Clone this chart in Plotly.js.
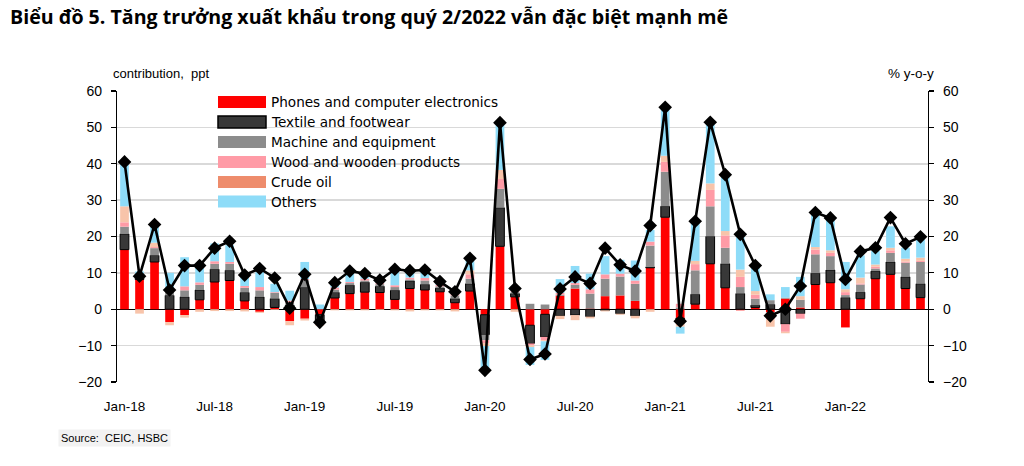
<!DOCTYPE html>
<html>
<head>
<meta charset="utf-8">
<script src="https://cdn.plot.ly/plotly-3.0.1.min.js"></script>
<style>html,body{margin:0;padding:0;background:#fff;}#chart{width:1024px;height:466px;}</style>
</head>
<body>
<div id="chart"></div>
<script>
const months = ["Jan-18","Feb-18","Mar-18","Apr-18","May-18","Jun-18","Jul-18","Aug-18","Sep-18","Oct-18","Nov-18","Dec-18",
"Jan-19","Feb-19","Mar-19","Apr-19","May-19","Jun-19","Jul-19","Aug-19","Sep-19","Oct-19","Nov-19","Dec-19",
"Jan-20","Feb-20","Mar-20","Apr-20","May-20","Jun-20","Jul-20","Aug-20","Sep-20","Oct-20","Nov-20","Dec-20",
"Jan-21","Feb-21","Mar-21","Apr-21","May-21","Jun-21","Jul-21","Aug-21","Sep-21","Oct-21","Nov-21","Dec-21",
"Jan-22","Feb-22","Mar-22","Apr-22","May-22","Jun-22"];
const tickLabels = ["Jan-18","Jul-18","Jan-19","Jul-19","Jan-20","Jul-20","Jan-21","Jul-21","Jan-22"];

const phones = [16.4,8.2,13.0,-3.5,-1.6,2.6,7.5,7.9,2.3,-0.7,0.5,-3.3,
 -2.6,-1.5,3.1,4.3,4.7,4.6,2.7,5.7,5.3,4.8,1.8,5.0,
 -1.5,17.3,3.4,-4.4,-1.4,3.7,5.7,0.2,3.6,3.8,2.3,11.4,
 25.3,-2.5,1.4,12.5,5.9,-0.3,0.5,-0.8,2.9,0.5,6.8,7.3,
 -5.0,2.9,8.4,9.6,5.7,3.2];
const textile = [4.3,0.3,1.8,3.8,3.4,2.7,3.5,2.8,2.3,3.4,2.4,1.1,
 6.0,-2.0,1.5,2.3,2.7,1.7,2.5,2.1,1.5,1.0,1.1,2.0,
 -5.5,10.6,0.9,-5.0,-6.2,-1.8,-1.6,-2.0,-0.3,-1.2,-1.8,0.2,
 3.0,-0.3,2.7,7.5,6.6,4.3,0.6,1.3,-4.1,-1.2,3.1,3.5,
 3.2,1.8,2.1,3.4,3.2,3.8];
const machine = [2.0,0.2,2.0,1.1,1.8,1.4,1.5,1.8,1.3,1.8,1.6,0.7,
 2.0,-0.5,0.8,0.6,0.5,0.6,0.9,0.4,1.1,0.5,0.9,1.4,
 -1.5,5.2,0.5,1.5,1.3,0.3,1.0,4.1,4.8,5.2,4.7,5.9,
 9.5,0.5,6.6,8.3,4.4,1.8,1.8,1.2,0.3,2.1,5.2,3.8,
 0.7,2.1,0.7,2.5,3.9,6.0];
const wood = [1.2,0.2,0.3,0.3,1.1,0.7,0.7,0.5,0.5,0.9,0.2,0.6,
 0.3,-0.3,0.6,0.3,0.5,0.3,0.5,0.5,0.7,0.4,0.4,1.2,
 -0.8,2.7,0.3,-0.5,-0.9,0.5,0.5,1.2,1.2,0.8,0.9,1.1,
 2.7,1.0,1.7,4.5,3.4,2.8,1.1,-2.0,-2.1,-1.4,1.3,0.9,
 0.8,0.3,0.5,0.7,0.3,0.3];
const crude = [4.4,-1.2,1.2,-0.9,-0.7,-0.7,-0.5,-0.5,-0.6,-0.3,-0.2,-1.1,
 -0.5,-0.2,-0.3,-0.3,-0.3,-0.2,-0.3,-0.6,-0.3,-0.3,-0.6,1.1,
 -0.8,2.5,-0.7,-0.5,-0.3,-0.9,-1.4,-0.5,-0.3,-0.3,-0.7,-0.7,
 1.7,-2.0,0.9,1.8,1.2,2.0,1.0,-2.0,-0.4,1.0,0.7,0.7,
 0.8,1.6,0.6,0.7,0.8,0.9];
const others = [12.1,1.5,4.5,4.8,8.0,5.0,4.9,4.6,2.5,4.1,2.3,2.7,
 4.7,1.3,1.6,3.6,1.7,1.0,4.7,2.5,2.5,1.2,1.2,3.3,
 -6.7,13.0,1.3,-4.9,-5.1,3.8,4.7,4.3,5.0,3.8,5.5,3.2,
 13.2,-1.9,10.5,16.7,15.7,8.9,6.6,1.6,2.9,5.3,9.4,8.9,
 7.5,6.1,3.7,5.9,3.0,5.4];
const total = [40.5,9.1,23.3,5.3,12.0,12.0,16.8,18.7,9.4,11.2,8.6,0.3,
 9.6,-3.6,7.3,10.5,9.8,8.0,11.0,10.6,10.8,7.6,4.8,14.0,
 -16.8,51.3,5.7,-13.8,-12.3,5.6,8.9,7.1,16.8,12.2,10.5,23.0,
 55.5,-3.3,24.2,51.4,37.0,20.6,12.0,-1.8,0.0,6.4,26.6,25.1,
 8.2,15.9,16.9,25.2,18.0,19.9];

const seriesNames = ["Phones and computer electronics","Textile and footwear","Machine and equipment","Wood and wooden products","Crude oil","Others"];
const barColors = ["#FF0000","#383838","#8C8C8C","#FF9BA6","#F8C4AA","#8EDCF8"];
const legendColors = ["#FF0000","#383838","#8C8C8C","#FF9BA6","#EE8C6C","#8EDCF8"];
const seriesData = [phones,textile,machine,wood,crude,others];

const traces = seriesData.map((d,k)=>({
  type:'bar', x:months, y:d, name:seriesNames[k], showlegend:false,
  marker:{color:barColors[k], line:{color:k===1?'#000000':'rgba(0,0,0,0)', width:k===1?1:0}},
  hoverinfo:'skip'
}));
traces.push({
  type:'scatter', mode:'lines+markers', x:months, y:total, yaxis:'y2', showlegend:false,
  line:{color:'#000000', width:2.6},
  marker:{symbol:'diamond', size:10.5, color:'#000000'}
});

// plot area in pixels
const L=117, R=928, T=91, B=382;
const px = v => (v-L)/(R-L);
const py = v => (B-v)/(B-T);

const shapes = [];
const annotations = [];
const rowsY = [102,122,142,162,182,201.5];
seriesNames.forEach((n,k)=>{
  shapes.push({type:'rect', xref:'paper', yref:'paper', x0:px(218), x1:px(266), y0:py(rowsY[k]+6), y1:py(rowsY[k]-6),
    fillcolor:legendColors[k], line:{color:k===1?'#000':'rgba(0,0,0,0)', width:k===1?1.5:0}});
  annotations.push({xref:'paper', yref:'paper', x:px(269), y:py(rowsY[k]), xanchor:'left', yanchor:'middle',
    text:n, showarrow:false, font:{family:'DejaVu Sans', size:13.6, color:'#000'}});
});

annotations.push({xref:'paper', yref:'paper', x:px(111), y:py(73), xanchor:'left', yanchor:'middle', showarrow:false,
  text:'contribution,  ppt', font:{family:'Liberation Sans', size:13, color:'#000'}});
annotations.push({xref:'paper', yref:'paper', x:px(936), y:py(73), xanchor:'right', yanchor:'middle', showarrow:false,
  text:'% y-o-y', font:{family:'Liberation Sans', size:13.5, color:'#000'}});
annotations.push({xref:'paper', yref:'paper', x:px(58), y:py(438), xanchor:'left', yanchor:'middle', showarrow:false,
  text:'Source:  CEIC, HSBC', bgcolor:'#F2F2F2', borderpad:2, font:{family:'Liberation Sans', size:11, color:'#000'}});

const layout = {
  width:1024, height:466,
  margin:{l:L, r:1024-R, t:T, b:466-B, pad:0},
  paper_bgcolor:'#ffffff', plot_bgcolor:'#ffffff',
  barmode:'relative', bargap:0.42,
  title:{text:'<b>Biểu đồ 5. Tăng trưởng xuất khẩu trong quý 2/2022 vẫn đặc biệt mạnh mẽ</b>', x:10/1024, xanchor:'left', y:1-17.5/466, yanchor:'middle',
    font:{family:'Open Sans', size:19.6, color:'#000'}},
  xaxis:{type:'category', range:[-0.5,53.5], tickmode:'array', tickvals:tickLabels, ticktext:tickLabels,
    showgrid:false, showline:false, ticks:'', ticklabelstandoff:14,
    tickfont:{family:'Liberation Sans', size:13.5, color:'#000'}},
  yaxis:{range:[-20,60], tickvals:[-20,-10,0,10,20,30,40,50,60], showgrid:true, gridcolor:'#D9D9D9', gridwidth:1.5,
    zeroline:true, zerolinecolor:'#000', zerolinewidth:1.2,
    showline:true, linecolor:'#000', linewidth:1.2, ticks:'outside', ticklen:5, tickcolor:'#000', tickwidth:1.2,
    tickfont:{family:'Liberation Sans', size:14, color:'#000'}, ticklabelstandoff:6},
  yaxis2:{range:[-20,60], overlaying:'y', side:'right', tickvals:[-20,-10,0,10,20,30,40,50,60], showgrid:false, zeroline:false,
    showline:true, linecolor:'#000', linewidth:1.2, ticks:'outside', ticklen:5, tickcolor:'#000', tickwidth:1.2,
    tickfont:{family:'Liberation Sans', size:14, color:'#000'}, ticklabelstandoff:6},
  shapes:shapes, annotations:annotations, showlegend:false
};
Plotly.newPlot('chart', traces, layout, {displayModeBar:false, staticPlot:true});
</script>
</body>
</html>
